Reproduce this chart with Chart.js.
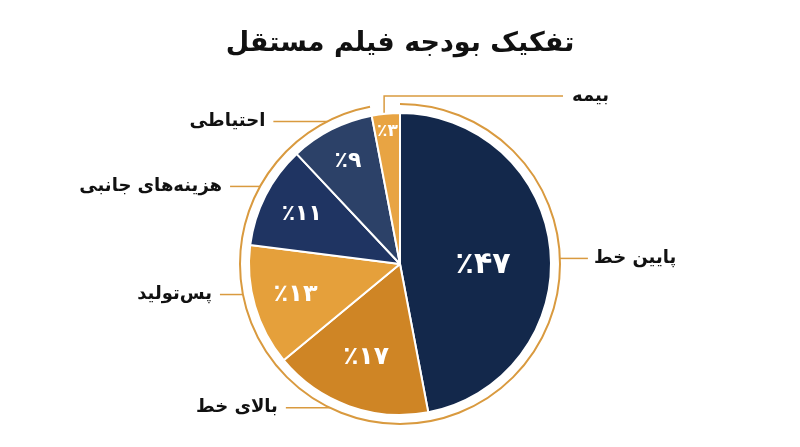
<!DOCTYPE html>
<html>
<head>
<meta charset="utf-8">
<title>تفکیک بودجه فیلم مستقل</title>
<script src="https://cdn.jsdelivr.net/npm/chart.js@4.4.1/dist/chart.umd.min.js"></script>
<style>
    html, body { margin: 0; padding: 0; background: #ffffff; }
    #wrap { width: 800px; height: 447px; }
</style>
</head>
<body>
<div id="wrap"><canvas id="budgetChart" width="800" height="447"></canvas></div>
<script>
// data
const chartTitle = 'تفکیک بودجه فیلم مستقل';
const categories = ['پایین خط', 'بالای خط', 'پس‌تولید', 'هزینه‌های جانبی', 'احتیاطی', 'بیمه'];
const shares = [47, 17, 13, 11, 9, 3];

// styles
const sliceColors = ['#13284b', '#cf8525', '#e5a03b', '#1f3462', '#2c4168', '#e8a443'];
const ringColor = '#d99a3f';
const FONT = "'DejaVu Sans', 'Noto Sans', sans-serif";

// where the inside % labels sit (fraction of radius) and how big
const pctLayout = [
    { r: 0.55, size: 30, angle: 91 },
    { r: 0.66, size: 25 },
    { r: 0.72, size: 24 },
    { r: 0.73, size: 22 },
    { r: 0.76, size: 22 },
    { r: 0.88, size: 17 }
];

// leader lines: angle on the ring (deg, clockwise from top) and line length
const leaders = [
    { angle: 88, len: 28 },
    { angle: 206, len: 44 },
    { angle: 259, len: 23 },
    { angle: 299, len: 30 },
    { angle: 333, len: 54 },
    { angle: 354, elbow: true, up: 168, right: 163 }
];

function toFa(n) {
    return String(n).replace(/\d/g, d => '۰۱۲۳۴۵۶۷۸۹'[d]);
}

const pieDecor = {
    id: 'pieDecor',
    afterDatasetsDraw(chart) {
        const ctx = chart.ctx;
        const meta = chart.getDatasetMeta(0);
        const first = meta.data[0];
        const cx = first.x, cy = first.y, r = first.outerRadius;
        const R = r + 9;

        ctx.save();

        // outer thin ring (skips the last small slice)
        ctx.strokeStyle = ringColor;
        ctx.lineWidth = 2;
        ctx.beginPath();
        ctx.arc(cx, cy, R, meta.data[0].startAngle, meta.data[meta.data.length - 2].endAngle);
        ctx.stroke();

        // percent labels inside slices
        ctx.fillStyle = '#ffffff';
        ctx.textAlign = 'center';
        ctx.textBaseline = 'middle';
        meta.data.forEach((arc, i) => {
            const p = pctLayout[i];
            let a = (arc.startAngle + arc.endAngle) / 2;
            if (p.angle !== undefined) a = (p.angle - 90) * Math.PI / 180;
            const x = cx + Math.cos(a) * r * p.r;
            const y = cy + Math.sin(a) * r * p.r;
            ctx.font = `bold ${p.size}px ${FONT}`;
            ctx.fillText('٪' + toFa(shares[i]), x, y);
        });

        // leader lines + category labels
        ctx.strokeStyle = ringColor;
        ctx.lineWidth = 1.5;
        ctx.fillStyle = '#111111';
        ctx.font = `bold 18px ${FONT}`;
        categories.forEach((name, i) => {
            const L = leaders[i];
            const a = (L.angle - 90) * Math.PI / 180;
            if (L.elbow) {
                const x0 = cx + Math.cos(a) * (r + 1);
                const y0 = cy + Math.sin(a) * (r + 1);
                const yTop = cy - L.up;
                const xEnd = cx + L.right;
                ctx.beginPath();
                ctx.moveTo(x0, y0);
                ctx.lineTo(x0, yTop);
                ctx.lineTo(xEnd, yTop);
                ctx.stroke();
                ctx.textAlign = 'left';
                ctx.fillText(name, xEnd + 9, yTop);
                return;
            }
            const x0 = cx + Math.cos(a) * R;
            const y0 = cy + Math.sin(a) * R;
            const right = Math.cos(a) > 0;
            const x1 = right ? x0 + L.len : x0 - L.len;
            ctx.beginPath();
            ctx.moveTo(x0, y0);
            ctx.lineTo(x1, y0);
            ctx.stroke();
            ctx.textAlign = right ? 'left' : 'right';
            ctx.fillText(name, right ? x1 + 6 : x1 - 8, y0);
        });

        ctx.restore();
    }
};

new Chart(document.getElementById('budgetChart'), {
    type: 'pie',
    data: {
        labels: categories,
        datasets: [{
            data: shares,
            backgroundColor: sliceColors,
            borderColor: '#ffffff',
            borderWidth: 2
        }]
    },
    options: {
        responsive: false,
        animation: false,
        layout: { padding: { top: 0, bottom: 31, left: 0, right: 0 } },
        plugins: {
            legend: { display: false },
            tooltip: { enabled: false },
            title: {
                display: true,
                text: chartTitle,
                color: '#111111',
                font: { family: FONT, size: 27, weight: 'bold', lineHeight: 1.2 },
                padding: { top: 28, bottom: 51.6 }
            }
        }
    },
    plugins: [pieDecor]
});
</script>
</body>
</html>
